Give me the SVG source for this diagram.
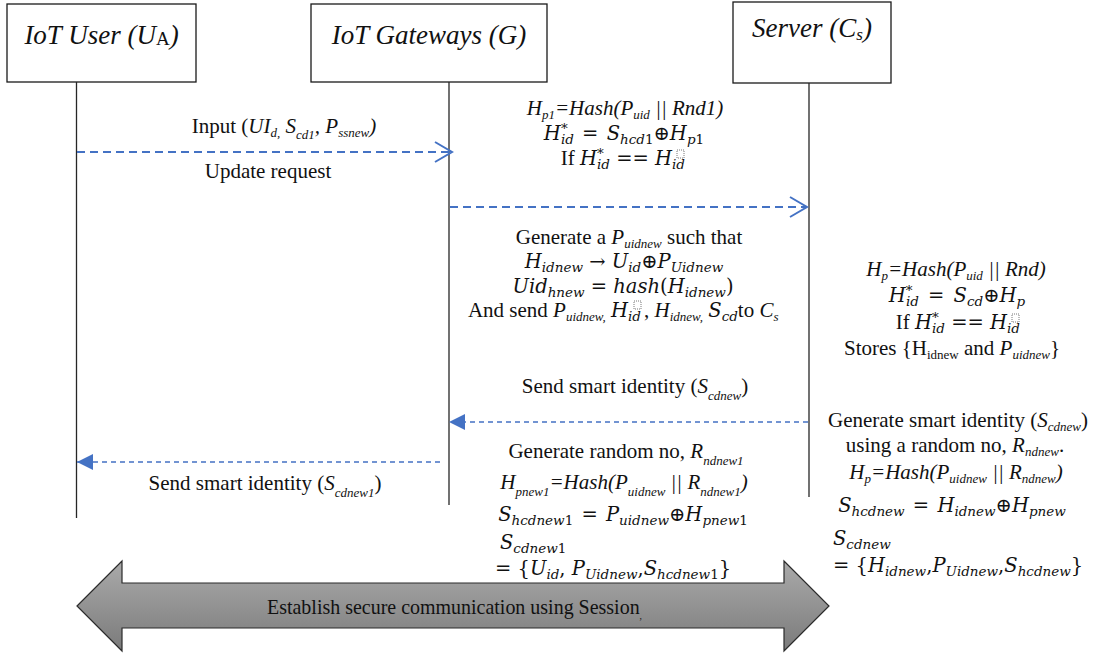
<svg xmlns="http://www.w3.org/2000/svg" width="1093" height="657" viewBox="0 0 1093 657" font-family="Liberation Serif, serif">
  <style>
    .box { fill: #fff; stroke: #1a1a1a; stroke-width: 1.3; }
    .life { stroke: #262626; stroke-width: 1.3; }
    .hdr { font-style: italic; font-size: 27px; fill: #111; }
    .t { font-size: 21px; fill: #111; }
    .i { font-style: italic; }
    .n { font-style: normal; }
    .s { font-size: 13px; }
    .m { font-style: italic; font-size: 19.5px; fill: #111; }
    .ms { font-size: 13.5px; }
    .msg { stroke: #4472C4; stroke-width: 2; fill: none; stroke-dasharray: 8 5; }
    .ret { stroke: #4472C4; stroke-width: 1.5; fill: none; stroke-dasharray: 5 4; }
    .ph { fill: none; stroke: #555; stroke-width: 0.8; stroke-dasharray: 1 1; }
  </style>
  <defs>
    <marker id="open" markerUnits="userSpaceOnUse" markerWidth="22" markerHeight="24" refX="18" refY="12" orient="auto">
      <path d="M1,2 L18,12 L1,22" fill="none" stroke="#4472C4" stroke-width="2"/>
    </marker>
    <marker id="solid" markerUnits="userSpaceOnUse" markerWidth="18" markerHeight="16" refX="16" refY="8" orient="auto">
      <path d="M0,0 L16,8 L0,16 z" fill="#4472C4"/>
    </marker>
    <linearGradient id="grey" x1="0" y1="0" x2="0" y2="1">
      <stop offset="0" stop-color="#aaaaaa"/>
      <stop offset="1" stop-color="#7b7b7b"/>
    </linearGradient>
  </defs>

  <!-- participants -->
  <g id="user">
    <rect class="box" x="7" y="4" width="189" height="78"/>
    <text class="hdr" x="101.5" y="44" text-anchor="middle">IoT User (U<tspan class="n" font-size="19" dy="1">A</tspan><tspan dy="-1">)</tspan></text>
    <line class="life" x1="76.5" y1="82" x2="76.5" y2="518"/>
  </g>
  <g id="gateway">
    <rect class="box" x="311" y="4" width="236" height="78"/>
    <text class="hdr" x="429" y="44" text-anchor="middle">IoT Gateways (G)</text>
    <line class="life" x1="449" y1="82" x2="449" y2="505"/>
  </g>
  <g id="server">
    <rect class="box" x="733" y="2" width="158" height="81"/>
    <text class="hdr" x="812" y="37" text-anchor="middle">Server (C<tspan font-size="17" dy="3">s</tspan><tspan dy="-3">)</tspan></text>
    <line class="life" x1="809" y1="83" x2="809" y2="497"/>
  </g>

  <!-- messages -->
  <g id="connectors">
    <line class="msg" x1="77" y1="152" x2="452" y2="152" marker-end="url(#open)"/>
    <line class="msg" x1="450" y1="207" x2="807" y2="207" marker-end="url(#open)"/>
    <line class="ret" x1="808" y1="422" x2="449" y2="422" marker-end="url(#solid)"/>
    <line class="ret" x1="440" y1="462" x2="77" y2="462" marker-end="url(#solid)"/>
  </g>

  <!-- message labels -->
  <g id="msg-labels">
    <text class="t" x="284" y="133" text-anchor="middle">Input (<tspan class="i">UI</tspan><tspan class="i s" dy="4">d,</tspan><tspan class="i" dy="-4"> S</tspan><tspan class="i s" dy="6">cd1</tspan><tspan class="i" dy="-6">, P</tspan><tspan class="i s" dy="4">ssnew</tspan><tspan class="i" dy="-4">)</tspan></text>
    <text class="t" x="268" y="178" text-anchor="middle">Update request</text>
    <text class="t" x="635" y="393" text-anchor="middle">Send smart identity (<tspan class="i">S</tspan><tspan class="i s" dy="7">cdnew</tspan><tspan dy="-7">)</tspan></text>
    <text class="t" x="265" y="490" text-anchor="middle">Send smart identity (<tspan class="i">S</tspan><tspan class="i s" dy="7">cdnew1</tspan><tspan dy="-7">)</tspan></text>
  </g>

  <!-- gateway: verification -->
  <g id="gw-verify">
    <text class="t i" x="625" y="115" text-anchor="middle">H<tspan class="s" dy="4">p1</tspan><tspan dy="-4">=Hash(P</tspan><tspan class="s" dy="4">uid</tspan><tspan dy="-4"> || Rnd1)</tspan></text>
    <text class="m" font-family="DejaVu Serif, serif" x="624" y="140" text-anchor="middle">H<tspan class="ms n" dy="-7">*</tspan><tspan class="ms" dx="-6.7" dy="11">id</tspan><tspan class="n" dx="2" dy="-4"> = </tspan><tspan dx="2">S</tspan><tspan class="ms" dy="4">hcd</tspan><tspan class="ms n">1</tspan><tspan class="n" dy="-4">⊕</tspan>H<tspan class="ms" dy="4">p</tspan><tspan class="ms n">1</tspan></text>
    <text class="m" font-family="DejaVu Serif, serif" x="685" y="165" text-anchor="end"><tspan class="t n" font-family="Liberation Serif, serif">If </tspan>H<tspan class="ms n" dy="-7">*</tspan><tspan class="ms" dx="-6.7" dy="11">id</tspan><tspan class="n" dy="-4"> == </tspan>H<tspan class="ms" dy="4">id</tspan></text>
    <rect class="ph" x="677" y="150" width="7" height="8"/>
  </g>

  <!-- gateway: new password -->
  <g id="gw-new">
    <text class="t" x="629" y="244" text-anchor="middle">Generate a <tspan class="i">P</tspan><tspan class="i s" dy="4">uidnew</tspan><tspan dy="-4"> such that</tspan></text>
    <text class="m" font-family="DejaVu Serif, serif" x="624" y="268" text-anchor="middle">H<tspan class="ms" dy="4">idnew</tspan><tspan class="n" dy="-4"> → </tspan>U<tspan class="ms" dy="4">id</tspan><tspan class="n" dy="-4">⊕</tspan>P<tspan class="ms" dy="4">Uidnew</tspan></text>
    <text class="m" font-family="DejaVu Serif, serif" x="623" y="293" text-anchor="middle">Uid<tspan class="ms" dy="4">hnew</tspan><tspan class="n" dy="-4"> = </tspan>hash<tspan class="n">(</tspan>H<tspan class="ms" dy="4">idnew</tspan><tspan class="n" dy="-4">)</tspan></text>
    <text class="t" x="641" y="317" text-anchor="end">And send <tspan class="i">P</tspan><tspan class="i s" dy="4">uidnew,</tspan><tspan dy="-4"> </tspan><tspan class="m" font-family="DejaVu Serif, serif">H</tspan><tspan class="m ms" font-family="DejaVu Serif, serif" dy="4">id</tspan></text>
    <rect class="ph" x="634" y="301" width="7" height="8"/>
    <text class="t" x="644" y="317">, <tspan class="i">H</tspan><tspan class="i s" dy="4">idnew,</tspan><tspan dy="-4"> </tspan><tspan class="m" font-family="DejaVu Serif, serif">S</tspan><tspan class="m ms" font-family="DejaVu Serif, serif" dy="4">cd</tspan><tspan dy="-4">to </tspan><tspan class="i">C</tspan><tspan class="i s" dy="4">s</tspan></text>
  </g>

  <!-- server: verification and storage -->
  <g id="srv-verify">
    <text class="t i" x="956" y="276" text-anchor="middle">H<tspan class="s" dy="4">p</tspan><tspan dy="-4">=Hash(P</tspan><tspan class="s" dy="4">uid</tspan><tspan dy="-4"> || Rnd)</tspan></text>
    <text class="m" font-family="DejaVu Serif, serif" x="957" y="302" text-anchor="middle">H<tspan class="ms n" dy="-7">*</tspan><tspan class="ms" dx="-6.7" dy="11">id</tspan><tspan class="n" dx="3" dy="-4"> = </tspan><tspan dx="3">S</tspan><tspan class="ms" dy="4">cd</tspan><tspan class="n" dy="-4">⊕</tspan>H<tspan class="ms" dy="4">p</tspan></text>
    <text class="m" font-family="DejaVu Serif, serif" x="1020" y="329" text-anchor="end"><tspan class="t n" font-family="Liberation Serif, serif">If </tspan>H<tspan class="ms n" dy="-7">*</tspan><tspan class="ms" dx="-6.7" dy="11">id</tspan><tspan class="n" dy="-4"> == </tspan>H<tspan class="ms" dy="4">id</tspan></text>
    <rect class="ph" x="1012" y="314" width="7" height="8"/>
    <text class="t" x="952" y="355" text-anchor="middle">Stores {H<tspan class="s" dy="4">idnew</tspan><tspan dy="-4"> and </tspan><tspan class="i">P</tspan><tspan class="i s" dy="4">uidnew</tspan><tspan dy="-4">}</tspan></text>
  </g>

  <!-- server: new smart identity -->
  <g id="srv-identity">
    <text class="t" x="958" y="427" text-anchor="middle">Generate smart identity (<tspan class="i">S</tspan><tspan class="i s" dy="4">cdnew</tspan><tspan dy="-4">)</tspan></text>
    <text class="t" x="955" y="452" text-anchor="middle">using a random no, <tspan class="i">R</tspan><tspan class="i s" dy="4">ndnew</tspan><tspan dy="-4">.</tspan></text>
    <text class="t i" x="956" y="479" text-anchor="middle">H<tspan class="s" dy="4">p</tspan><tspan dy="-4">=Hash(P</tspan><tspan class="s" dy="4">uidnew</tspan><tspan dy="-4"> || R</tspan><tspan class="s" dy="4">ndnew</tspan><tspan dy="-4">)</tspan></text>
    <text class="m" font-family="DejaVu Serif, serif" x="952" y="512" text-anchor="middle">S<tspan class="ms" dy="4">hcdnew</tspan><tspan class="n" dx="2" dy="-4"> = </tspan><tspan dx="2">H</tspan><tspan class="ms" dy="4">idnew</tspan><tspan class="n" dy="-4">⊕</tspan>H<tspan class="ms" dy="4">pnew</tspan></text>
    <text class="m" font-family="DejaVu Serif, serif" x="833" y="545">S<tspan class="ms" dy="4">cdnew</tspan></text>
    <text class="m" font-family="DejaVu Serif, serif" x="833" y="572"><tspan class="n">= {</tspan>H<tspan class="ms" dy="4">idnew</tspan><tspan class="n" dy="-4">,</tspan>P<tspan class="ms" dy="4">Uidnew</tspan><tspan class="n" dy="-4">,</tspan>S<tspan class="ms" dy="4">hcdnew</tspan><tspan class="n" dy="-4">}</tspan></text>
  </g>

  <!-- gateway: forwarded smart identity -->
  <g id="gw-identity">
    <text class="t" x="626" y="458" text-anchor="middle">Generate random no, <tspan class="i">R</tspan><tspan class="i s" dy="7">ndnew1</tspan></text>
    <text class="t i" x="624" y="489" text-anchor="middle">H<tspan class="s" dy="7">pnew1</tspan><tspan dy="-7">=Hash(P</tspan><tspan class="s" dy="7">uidnew</tspan><tspan dy="-7"> || R</tspan><tspan class="s" dy="7">ndnew1</tspan><tspan dy="-7">)</tspan></text>
    <text class="m" font-family="DejaVu Serif, serif" x="623" y="521" text-anchor="middle">S<tspan class="ms" dy="4">hcdnew</tspan><tspan class="ms n">1</tspan><tspan class="n" dx="2" dy="-4"> = </tspan><tspan dx="2">P</tspan><tspan class="ms" dy="4">uidnew</tspan><tspan class="n" dy="-4">⊕</tspan>H<tspan class="ms" dy="4">pnew</tspan><tspan class="ms n">1</tspan></text>
    <text class="m" font-family="DejaVu Serif, serif" x="500" y="549">S<tspan class="ms" dy="4">cdnew</tspan><tspan class="ms n">1</tspan></text>
    <text class="m" font-family="DejaVu Serif, serif" x="495" y="575"><tspan class="n">= {</tspan>U<tspan class="ms" dy="4">id</tspan><tspan class="n" dy="-4">, </tspan>P<tspan class="ms" dy="4">Uidnew</tspan><tspan class="n" dy="-4">,</tspan>S<tspan class="ms" dy="4">hcdnew</tspan><tspan class="ms n">1</tspan><tspan class="n" dy="-4">}</tspan></text>
  </g>

  <!-- session -->
  <g id="session">
    <path d="M77,606 L122,561 L122,583 L784,583 L784,561 L829,606 L784,651 L784,628 L122,628 L122,651 Z" fill="url(#grey)" stroke="#2b2b2b" stroke-width="1.2"/>
    <text class="t" x="267" y="614" textLength="375" lengthAdjust="spacingAndGlyphs">Establish secure communication using Session<tspan font-size="10" dy="5">,</tspan></text>
  </g>
</svg>
